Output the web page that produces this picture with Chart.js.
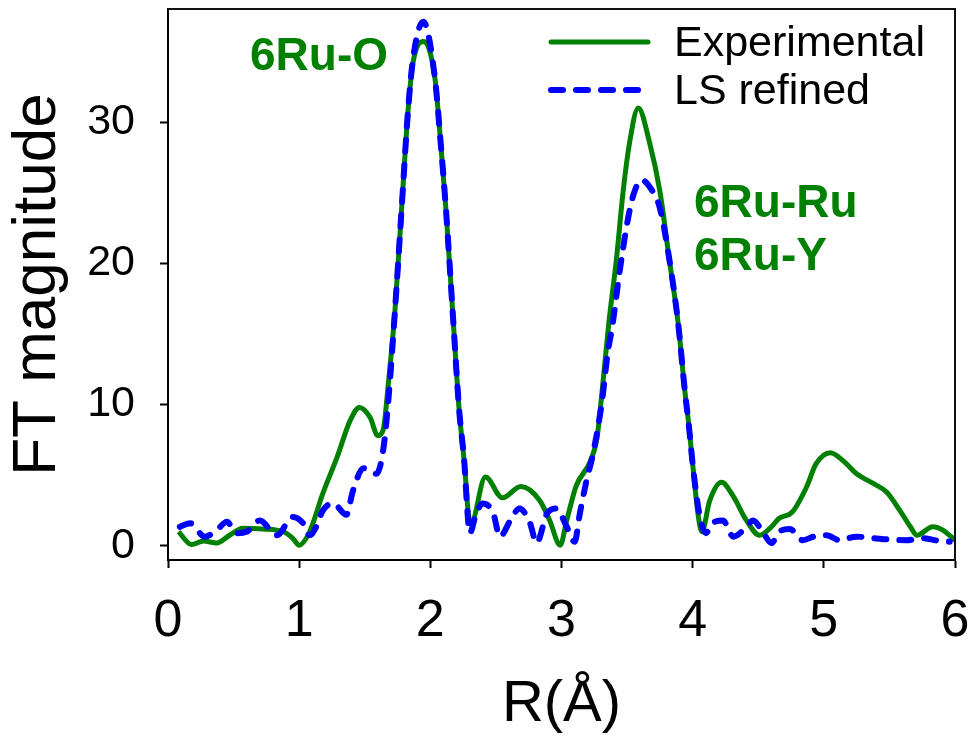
<!DOCTYPE html>
<html>
<head>
<meta charset="utf-8">
<script src="https://cdn.jsdelivr.net/npm/chart.js@4"></script>
<style>
  body { margin: 0; background: #fff; }
  canvas { display: block; }
</style>
</head>
<body>
<canvas id="myChart" width="969" height="736"></canvas>
<script>
// values
const expR  = [0.08, 0.18, 0.27, 0.37, 0.47, 0.57, 0.72, 0.88, 0.95, 1.0, 1.08, 1.18, 1.29, 1.39, 1.46, 1.54, 1.60, 1.64, 1.68, 1.73, 1.78, 1.83, 1.87, 1.95, 2.035, 2.08, 2.12, 2.17, 2.22, 2.26, 2.29, 2.31, 2.42, 2.55, 2.69, 2.835, 2.91, 2.99, 3.04, 3.11, 3.22, 3.27, 3.31, 3.36, 3.42, 3.47, 3.52, 3.585, 3.67, 3.75, 3.82, 3.89, 3.94, 3.97, 4.0, 4.04, 4.07, 4.13, 4.22, 4.31, 4.41, 4.51, 4.59, 4.66, 4.76, 4.87, 4.94, 5.05, 5.15, 5.25, 5.38, 5.48, 5.58, 5.66, 5.71, 5.83, 5.91, 6.0];
const expFT = [1.0, 0.1, 0.35, 0.2, 0.75, 1.25, 1.2, 1.0, 0.55, 0.05, 1.0, 3.7, 6.3, 8.9, 9.8, 9.1, 7.8, 8.2, 11.5, 16.6, 23.7, 30.8, 34.3, 35.7, 33.1, 28.4, 23.7, 16.6, 9.6, 5.8, 2.3, 1.6, 4.87, 3.4, 4.2, 3.2, 1.8, 0.05, 1.8, 4.2, 6.0, 7.6, 11.0, 15.7, 20.4, 25.1, 28.6, 31.0, 28.6, 25.1, 20.4, 15.7, 11.0, 8.6, 5.8, 2.3, 1.0, 3.2, 4.5, 3.5, 1.8, 0.75, 1.25, 1.95, 2.4, 4.2, 5.8, 6.6, 6.0, 5.1, 4.4, 3.8, 2.5, 1.35, 0.75, 1.35, 1.1, 0.4];

const fitR  = [0.09, 0.17, 0.28, 0.37, 0.45, 0.52, 0.60, 0.70, 0.83, 0.95, 1.03, 1.08, 1.13, 1.18, 1.26, 1.36, 1.41, 1.49, 1.59, 1.64, 1.68, 1.73, 1.78, 1.83, 1.87, 1.946, 2.035, 2.08, 2.12, 2.17, 2.22, 2.26, 2.28, 2.30, 2.35, 2.40, 2.48, 2.53, 2.61, 2.68, 2.76, 2.81, 2.89, 2.96, 3.04, 3.10, 3.14, 3.19, 3.24, 3.31, 3.35, 3.39, 3.44, 3.50, 3.55, 3.61, 3.68, 3.75, 3.82, 3.89, 3.94, 3.97, 4.0, 4.05, 4.10, 4.15, 4.23, 4.31, 4.41, 4.46, 4.54, 4.60, 4.66, 4.74, 4.84, 4.92, 5.02, 5.12, 5.25, 5.38, 5.50, 5.63, 5.75, 5.88, 5.96];
const fitFT = [1.35, 1.6, 0.65, 1.1, 1.7, 0.9, 1.0, 1.8, 0.75, 2.05, 1.6, 0.75, 1.35, 2.5, 3.0, 2.2, 3.9, 5.5, 5.1, 6.75, 10.3, 16.6, 23.7, 30.8, 34.6, 37.1, 33.1, 28.4, 23.7, 16.6, 9.6, 5.8, 2.8, 0.9, 2.3, 3.0, 2.3, 0.65, 1.8, 2.65, 1.6, 0.2, 2.3, 2.65, 1.35, 0.3, 2.3, 4.6, 6.5, 10.3, 13.5, 15.7, 19.2, 22.8, 24.9, 25.9, 25.3, 23.9, 20.4, 15.7, 11.0, 8.6, 5.8, 2.3, 0.9, 1.6, 1.8, 0.65, 1.35, 1.8, 0.9, 0.2, 1.0, 1.2, 0.4, 0.65, 0.75, 0.4, 0.65, 0.55, 0.45, 0.4, 0.55, 0.35, 0.3];

const xTicks = [0, 1, 2, 3, 4, 5, 6];
const yTicks = [0, 10, 20, 30];

const notes = ['6Ru-O', '6Ru-Ru', '6Ru-Y'];

const fontFam = '"Liberation Sans", Arial, sans-serif';
const green = '#008000';
const blue = '#0000ff';

const toPts = (xs, ys) => xs.map((x, i) => ({ x: x, y: ys[i] }));

// top/right frame, legend inside the plot, peak labels
const extras = {
  id: 'extras',
  afterDraw(chart) {
    const { ctx, chartArea: a } = chart;
    ctx.save();
    ctx.strokeStyle = '#111';
    ctx.lineWidth = 2;
    ctx.beginPath();
    ctx.moveTo(a.left, a.top);
    ctx.lineTo(a.right, a.top);
    ctx.lineTo(a.right, a.bottom);
    ctx.stroke();

    // legend
    const rows = [42, 90];
    chart.data.datasets.forEach((ds, i) => {
      ctx.beginPath();
      ctx.strokeStyle = ds.borderColor;
      ctx.lineWidth = ds.borderWidth;
      ctx.lineCap = 'round';
      ctx.setLineDash(ds.borderDash || []);
      ctx.moveTo(551, rows[i]);
      ctx.lineTo(648, rows[i]);
      ctx.stroke();
      ctx.setLineDash([]);
      ctx.fillStyle = '#000';
      ctx.font = '43px ' + fontFam;
      ctx.textBaseline = 'alphabetic';
      ctx.fillText(ds.label, 674, rows[i] + 14);
    });

    // peak labels
    ctx.fillStyle = green;
    ctx.font = 'bold 46px ' + fontFam;
    ctx.fillText(notes[0], 250, 70);
    ctx.fillText(notes[1], 694, 217);
    ctx.fillText(notes[2], 694, 270);
    ctx.restore();
  }
};

const ctx = document.getElementById('myChart');

const myChart = new Chart(ctx, {
  type: 'line',
  data: {
    datasets: [{
      label: 'Experimental',
      data: toPts(expR, expFT),
      borderColor: green,
      borderWidth: 5,
      pointRadius: 0,
      cubicInterpolationMode: 'monotone',
      fill: false,
      order: 1
    }, {
      label: 'LS refined',
      data: toPts(fitR, fitFT),
      borderColor: blue,
      borderWidth: 6,
      borderDash: [12, 13],
      borderCapStyle: 'round',
      pointRadius: 0,
      cubicInterpolationMode: 'monotone',
      fill: false,
      order: 0
    }]
  },
  options: {
    responsive: false,
    animation: false,
    layout: { padding: { top: 9, right: 14, left: 0, bottom: 0 } },
    plugins: {
      legend: { display: false },
      tooltip: { enabled: false }
    },
    scales: {
      x: {
        type: 'linear',
        min: 0,
        max: 6,
        afterBuildTicks: s => { s.ticks = xTicks.map(v => ({ value: v })); },
        afterFit: s => { s.height = 176; s.paddingLeft = 0; s.paddingRight = 0; },
        ticks: { color: '#000', font: { family: fontFam, size: 52 }, padding: 22, maxRotation: 0 },
        grid: { drawOnChartArea: false, tickLength: 8, tickColor: '#000', tickWidth: 2 },
        border: { color: '#000', width: 2 },
        title: {
          display: true,
          text: 'R(Å)',
          color: '#000',
          font: { family: fontFam, size: 58, lineHeight: 1 },
          padding: { top: 0, bottom: 2 }
        }
      },
      y: {
        min: -1,
        max: 38,
        afterBuildTicks: s => { s.ticks = yTicks.map(v => ({ value: v })); },
        afterFit: s => { s.width = 168; s.paddingTop = 0; s.paddingBottom = 0; },
        ticks: { color: '#000', font: { family: fontFam, size: 43 }, padding: 25 },
        grid: { drawOnChartArea: false, tickLength: 8, tickColor: '#000', tickWidth: 2 },
        border: { color: '#000', width: 2 },
        title: {
          display: true,
          text: 'FT magnitude',
          color: '#000',
          font: { family: fontFam, size: 62 },
          padding: { top: 1, bottom: 0 }
        }
      }
    }
  },
  plugins: [extras]
});
</script>
</body>
</html>
